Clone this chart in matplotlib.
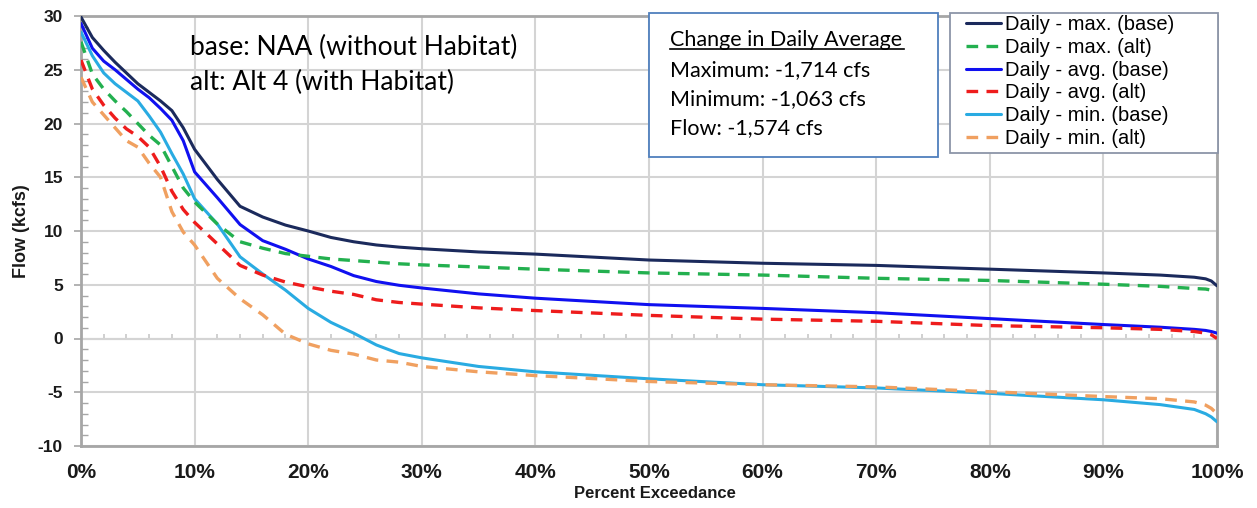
import numpy as np
import matplotlib
matplotlib.use('Agg')
import matplotlib.pyplot as plt
from matplotlib.ticker import MultipleLocator, FuncFormatter
from matplotlib.patches import Rectangle
from matplotlib.lines import Line2D

plt.rcParams['axes.unicode_minus'] = False

# percent exceedance (shared x for all curves)
pct = [0, 1, 2, 3, 4, 5, 6, 7, 8, 9, 10, 12, 14, 16, 18, 20, 22, 24, 26, 28, 30,
       35, 40, 50, 60, 70, 80, 90, 95, 98, 99, 99.5, 100]

max_base = [29.9, 28.0, 26.8, 25.7, 24.7, 23.7, 22.9, 22.1, 21.2, 19.6, 17.6, 14.8, 12.3,
            11.3, 10.55, 10.0, 9.4, 9.0, 8.7, 8.5, 8.35, 8.05, 7.85, 7.3, 7.0, 6.8, 6.45,
            6.1, 5.9, 5.7, 5.55, 5.35, 4.9]
max_alt = [27.6, 24.6, 23.2, 22.1, 21.1, 20.0, 18.9, 18.0, 16.0, 14.0, 12.7, 10.65, 9.0,
           8.4, 7.9, 7.65, 7.4, 7.25, 7.1, 6.95, 6.85, 6.65, 6.45, 6.1, 5.9, 5.6, 5.4,
           5.05, 4.85, 4.65, 4.6, 4.5, 4.4]
avg_base = [29.3, 27.0, 25.8, 25.0, 24.1, 23.2, 22.4, 21.4, 20.3, 18.4, 15.5, 13.1, 10.6,
            9.1, 8.3, 7.4, 6.7, 5.85, 5.3, 4.95, 4.7, 4.15, 3.75, 3.15, 2.8, 2.4, 1.85,
            1.3, 1.05, 0.85, 0.75, 0.65, 0.5]
avg_alt = [25.9, 23.2, 21.7, 20.5, 19.5, 18.8, 17.8, 16.0, 13.7, 12.0, 10.8, 8.8, 6.8,
           5.9, 5.25, 4.8, 4.4, 4.1, 3.6, 3.35, 3.2, 2.85, 2.6, 2.15, 1.8, 1.6, 1.2,
           1.0, 0.85, 0.65, 0.5, 0.35, 0.0]
min_base = [28.5, 26.3, 24.7, 23.7, 22.9, 22.1, 20.7, 19.2, 17.2, 15.3, 13.0, 10.65, 7.6,
            6.0, 4.5, 2.8, 1.5, 0.5, -0.6, -1.4, -1.8, -2.6, -3.1, -3.75, -4.3, -4.6, -5.1,
            -5.7, -6.15, -6.6, -7.0, -7.3, -7.75]
min_alt = [24.3, 22.0, 20.8, 19.6, 18.4, 17.8, 16.3, 15.0, 11.8, 9.9, 8.7, 5.6, 3.7,
           2.2, 0.4, -0.5, -1.1, -1.45, -2.0, -2.2, -2.6, -3.1, -3.45, -4.0, -4.3, -4.5, -4.95,
           -5.4, -5.6, -5.9, -6.2, -6.5, -7.0]

labels = ['Daily - max. (base)', 'Daily - max. (alt)', 'Daily - avg. (base)',
          'Daily - avg. (alt)', 'Daily - min. (base)', 'Daily - min. (alt)']
colors = ['#1b2a5c', '#23b04f', '#1010f0', '#ee1c1c', '#29abe2', '#f0a060']

notes = ['base: NAA (without Habitat)', 'alt: Alt 4 (with Habitat)']
summary_title = 'Change in Daily Average'
summary_lines = ['Maximum: -1,714 cfs', 'Minimum: -1,063 cfs', 'Flow: -1,574 cfs']

W, H = 1257, 508


def fx(px):
    return px / W


def fy(py):
    return 1 - py / H


fig = plt.figure(figsize=(W / 100, H / 100), dpi=100)
ax = fig.add_axes([fx(81), fy(446), (1217 - 81) / W, (446 - 16) / H])

series = [max_base, max_alt, avg_base, avg_alt, min_base, min_alt]
handles = []
for i, (vals, lab, c) in enumerate(zip(series, labels, colors)):
    if i % 2 == 0:
        ln, = ax.plot(pct, vals, color=c, lw=2.2, solid_capstyle='round', zorder=3)
    else:
        ln, = ax.plot(pct, vals, color=c, lw=2.4, dashes=(3.5, 2.5), zorder=4)
    handles.append(ln)

ax.set_xlim(0, 100)
ax.set_ylim(-10, 30)
ax.xaxis.set_major_locator(MultipleLocator(10))
ax.yaxis.set_major_locator(MultipleLocator(5))
ax.yaxis.set_minor_locator(MultipleLocator(1))
ax.xaxis.set_major_formatter(FuncFormatter(lambda v, p: '%d%%' % v))
ax.grid(True, which='major', color='#d4d4d4', lw=1.5, zorder=0)
ax.axhline(0, color='#c8c8c8', lw=1.5, zorder=1)
# small tick marks along the zero line
ax.vlines(np.arange(0, 101, 2), 0, 0.4, color='#c8c8c8', lw=1.2, zorder=1)

for s in ax.spines.values():
    s.set_color('#a6a6a6')
    s.set_linewidth(2)

ax.tick_params(axis='x', which='major', length=0, pad=12, labelsize=15, labelcolor='#1a1a1a')
ax.tick_params(axis='y', which='major', length=5, width=1.2, color='#a6a6a6',
               direction='out', labelsize=12.5, pad=8, labelcolor='#1a1a1a')
ax.tick_params(axis='y', which='minor', length=5, width=1, color='#a6a6a6', direction='in')
for t in ax.get_xticklabels() + ax.get_yticklabels():
    t.set_fontfamily('Liberation Sans')
    t.set_fontweight('bold')

ax.set_ylabel('Flow (kcfs)', fontsize=13, fontweight='bold', family='Liberation Sans',
              color='#1a1a1a')
ax.yaxis.set_label_coords(-0.045, 0.5)
fig.text(fx(655), fy(494), 'Percent Exceedance', fontsize=12, fontweight='bold',
         family='Liberation Sans', color='#1a1a1a', ha='center', va='center')

# scenario notes
for k, note in enumerate(notes):
    fig.text(fx(190), fy(55 + 35 * k), note, fontsize=19, family='Lato',
             va='baseline', ha='left')

# summary box
fig.patches.append(Rectangle((fx(649), fy(157)), (938 - 649) / W, (157 - 13) / H,
                             transform=fig.transFigure, facecolor='white',
                             edgecolor='#4f7fbd', lw=1.3, zorder=5))
fig.text(fx(670), fy(46), summary_title, fontsize=15.5, family='Lato',
         va='baseline', ha='left', zorder=6)
fig.lines.append(Line2D([fx(670), fx(904)], [fy(48.5), fy(48.5)],
                        transform=fig.transFigure, color='black', lw=1.2, zorder=6))
for k, line in enumerate(summary_lines):
    fig.text(fx(670), fy(76 + 29 * k), line, fontsize=15.5, family='Lato',
             va='baseline', ha='left', zorder=6)

# legend
fig.patches.append(Rectangle((fx(950), fy(153)), (1218 - 950) / W, (153 - 13) / H,
                             transform=fig.transFigure, facecolor='white',
                             edgecolor='#8c95a8', lw=1.3, zorder=5))
leg = fig.legend(handles, labels, loc='upper left',
                 bbox_to_anchor=(fx(966), fy(15)),
                 prop={'family': 'Liberation Sans', 'size': 14.5},
                 handlelength=1.75, handletextpad=0.2, labelspacing=0.19,
                 borderpad=0, borderaxespad=0, frameon=False)
leg.set_zorder(7)

fig.savefig('out.png', dpi=100)
